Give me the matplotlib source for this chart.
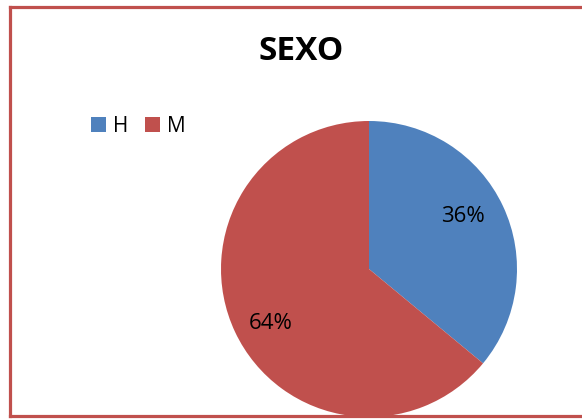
import matplotlib
matplotlib.use("Agg")
import numpy as np
import matplotlib.pyplot as plt
from matplotlib.lines import Line2D

categories = ["H", "M"]
values = [36, 64]
colors = ["#4F81BD", "#C0504D"]
title = "SEXO"

W, H = 582, 419
fig = plt.figure(figsize=(W / 100, H / 100), dpi=100)
fig.patch.set_facecolor("white")

cx, cy, r = 369, 269, 148
ax = fig.add_axes([(cx - r) / W, (H - cy - r) / H, 2 * r / W, 2 * r / H])
wedges, texts, autotexts = ax.pie(
    values, colors=colors, startangle=90, counterclock=False,
    autopct=lambda p: f"{p:.0f}%", pctdistance=0.74,
    textprops=dict(fontsize=16, family="Open Sans", color="black"),
    wedgeprops=dict(linewidth=0))
# label placement similar to the original (slightly rotated from wedge middle)
for w, t, d in zip(wedges, autotexts, [0.73, 0.76]):
    ang = np.deg2rad((w.theta1 + w.theta2) / 2 + 4)
    t.set_position((d * np.cos(ang), d * np.sin(ang)))
ax.set_xlim(-1, 1)
ax.set_ylim(-1, 1)
ax.set_aspect("auto")
ax.axis("off")

fig.text(301 / W, 1 - 52 / H, title, ha="center", va="center",
         fontsize=24, fontweight="bold", family="Open Sans")

fig.legend(wedges, categories, loc="center left",
           bbox_to_anchor=(91 / W, 1 - 126 / H), ncol=2, frameon=False,
           prop=dict(family="Open Sans", size=15),
           handlelength=0.714, handleheight=0.714, handletextpad=0.33,
           columnspacing=0.8, borderpad=0, borderaxespad=0)

fc = "#C0504D"
lw = 2.3
def fx(x): return x / W
def fy(y): return 1 - y / H
fig.add_artist(Line2D([fx(9.5), fx(W + 5)], [fy(7), fy(7)], color=fc, lw=lw, zorder=10))
fig.add_artist(Line2D([fx(9.5), fx(W + 5)], [fy(416), fy(416)], color=fc, lw=lw, zorder=10))
fig.add_artist(Line2D([fx(9.5), fx(9.5)], [fy(7), fy(416)], color=fc, lw=lw, zorder=10))

fig.savefig("out.png", dpi=100)
